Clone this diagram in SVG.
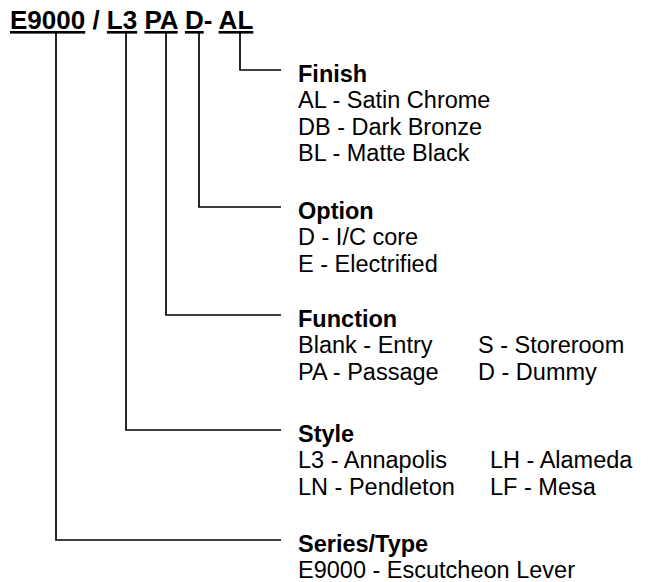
<svg xmlns="http://www.w3.org/2000/svg" width="651" height="582" viewBox="0 0 651 582">
<style>
  text { font-family: "Liberation Sans", Arial, sans-serif; fill: #000; }
  .title { font-size: 26px; font-weight: bold; }
  .u { text-decoration: underline; }
  .h { font-size: 23.5px; font-weight: bold; }
  .t { font-size: 23.5px; }
  .conn { fill: none; stroke: #000; stroke-width: 1.7; }
</style>
<rect width="651" height="582" fill="#fff"/>
<g id="title">
  <text class="title" x="10" y="29"><tspan class="u">E9000</tspan> / <tspan class="u">L3</tspan> <tspan class="u">PA</tspan> <tspan class="u">D</tspan>- <tspan class="u">AL</tspan></text>
</g>
<g id="connectors">
  <path class="conn" d="M240,33 V70 H281"/>
  <path class="conn" d="M199,33 V207 H281"/>
  <path class="conn" d="M166,33 V315 H281"/>
  <path class="conn" d="M126,33 V430 H281"/>
  <path class="conn" d="M56,33 V540 H281"/>
</g>
<g id="finish">
  <text class="h" x="298" y="81.5">Finish</text>
  <text class="t" x="298" y="108">AL - Satin Chrome</text>
  <text class="t" x="298" y="134.5">DB - Dark Bronze</text>
  <text class="t" x="298" y="161">BL - Matte Black</text>
</g>
<g id="option">
  <text class="h" x="298" y="218.5">Option</text>
  <text class="t" x="298" y="245">D - I/C core</text>
  <text class="t" x="298" y="271.5">E - Electrified</text>
</g>
<g id="function">
  <text class="h" x="298" y="326.5">Function</text>
  <text class="t" x="298" y="353">Blank - Entry</text>
  <text class="t" x="478" y="353">S - Storeroom</text>
  <text class="t" x="298" y="379.5">PA - Passage</text>
  <text class="t" x="478" y="379.5">D - Dummy</text>
</g>
<g id="style">
  <text class="h" x="298" y="441.5">Style</text>
  <text class="t" x="298" y="468">L3 - Annapolis</text>
  <text class="t" x="490" y="468">LH - Alameda</text>
  <text class="t" x="298" y="494.5">LN - Pendleton</text>
  <text class="t" x="490" y="494.5">LF - Mesa</text>
</g>
<g id="series">
  <text class="h" x="298" y="551.5">Series/Type</text>
  <text class="t" x="298" y="577.5">E9000 - Escutcheon Lever</text>
</g>
</svg>
